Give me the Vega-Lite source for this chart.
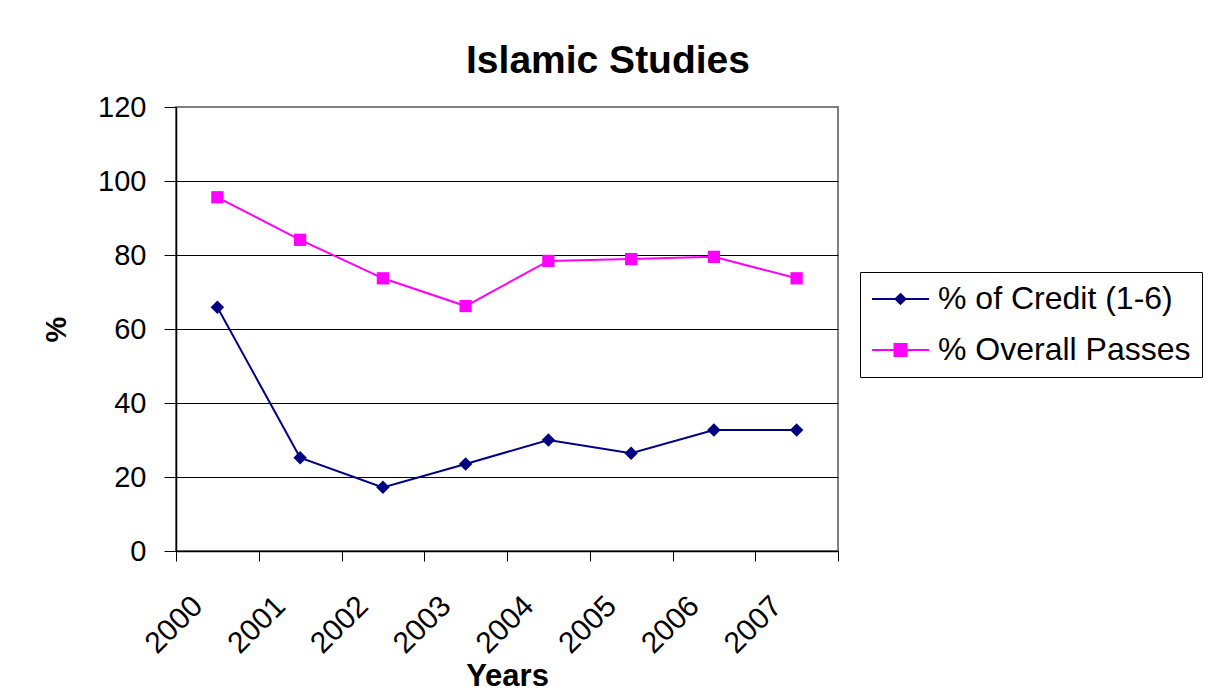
{
  "$schema": "https://vega.github.io/schema/vega-lite/v6.json",
  "width": 662,
  "height": 444,
  "autosize": {"type": "none"},
  "padding": {"left": 176, "top": 107, "right": 375, "bottom": 148},
  "background": "white",
  "config": {
    "font": "Liberation Sans",
    "view": {"stroke": "#808080", "strokeWidth": 2}
  },
  "title": {
    "text": "Islamic Studies",
    "font": "Liberation Sans",
    "fontSize": 39,
    "fontWeight": "bold",
    "color": "black",
    "anchor": "middle",
    "frame": "group",
    "dx": 101,
    "dy": 47,
    "offset": 28,
    "baseline": "alphabetic"
  },
  "data": {
    "values": [
      {"year": "2000", "series": "% of Credit (1-6)", "value": 65.9},
      {"year": "2001", "series": "% of Credit (1-6)", "value": 25.2},
      {"year": "2002", "series": "% of Credit (1-6)", "value": 17.2},
      {"year": "2003", "series": "% of Credit (1-6)", "value": 23.5},
      {"year": "2004", "series": "% of Credit (1-6)", "value": 30.0},
      {"year": "2005", "series": "% of Credit (1-6)", "value": 26.4},
      {"year": "2006", "series": "% of Credit (1-6)", "value": 32.7},
      {"year": "2007", "series": "% of Credit (1-6)", "value": 32.7},
      {"year": "2000", "series": "% Overall Passes", "value": 95.6},
      {"year": "2001", "series": "% Overall Passes", "value": 84.1},
      {"year": "2002", "series": "% Overall Passes", "value": 73.7},
      {"year": "2003", "series": "% Overall Passes", "value": 66.2},
      {"year": "2004", "series": "% Overall Passes", "value": 78.4},
      {"year": "2005", "series": "% Overall Passes", "value": 78.9},
      {"year": "2006", "series": "% Overall Passes", "value": 79.5},
      {"year": "2007", "series": "% Overall Passes", "value": 73.7}
    ]
  },
  "encoding": {
    "x": {
      "field": "year",
      "type": "ordinal",
      "scale": {"type": "band", "paddingInner": 0, "paddingOuter": 0},
      "axis": {
        "title": "Years",
        "titleFont": "Liberation Sans",
        "titleFontSize": 31,
        "titleFontWeight": "bold",
        "titleColor": "black",
        "titleBaseline": "alphabetic",
        "titleY": 134,
        "labelAngle": -45,
        "labelAlign": "right",
        "labelBaseline": "middle",
        "labelOffset": -20,
        "labelPadding": 40,
        "labelFontSize": 30,
        "labelColor": "black",
        "labelOverlap": false,
        "tickBand": "extent",
        "tickSize": 10,
        "tickColor": "black",
        "domainColor": "black",
        "domainWidth": 1.5,
        "grid": false
      }
    },
    "y": {
      "field": "value",
      "type": "quantitative",
      "scale": {"domain": [0, 120], "nice": false},
      "axis": {
        "values": [0, 20, 40, 60, 80, 100, 120],
        "title": "%",
        "titleFont": "Liberation Sans",
        "titleFontSize": 29,
        "titleFontWeight": "bold",
        "titleColor": "black",
        "titleX": -120,
        "titleY": 222,
        "titleAlign": "center",
        "titleBaseline": "middle",
        "labelFontSize": 29,
        "labelColor": "black",
        "labelPadding": 18,
        "tickSize": 12,
        "tickColor": "black",
        "domainColor": "black",
        "domainWidth": 1.5,
        "grid": true,
        "gridColor": {"condition": {"test": "datum.value === 120", "value": "#808080"}, "value": "black"},
        "gridWidth": 1,
        "gridOpacity": 1
      }
    }
  },
  "layer": [
    {
      "mark": {"type": "line", "strokeWidth": 2},
      "encoding": {
        "color": {
          "field": "series",
          "type": "nominal",
          "scale": {"domain": ["% of Credit (1-6)", "% Overall Passes"], "range": ["#000080", "#FF00FF"]},
          "legend": null
        }
      }
    },
    {
      "mark": {"type": "point", "filled": true, "opacity": 1, "size": 150},
      "encoding": {
        "color": {
          "field": "series",
          "type": "nominal",
          "scale": {"domain": ["% of Credit (1-6)", "% Overall Passes"], "range": ["#000080", "#FF00FF"]},
          "legend": null
        },
        "shape": {
          "field": "series",
          "type": "nominal",
          "scale": {"domain": ["% of Credit (1-6)", "% Overall Passes"], "range": ["M-1.1,0L0,-1.1L1.1,0L0,1.1Z", "square"]},
          "legend": null
        }
      }
    },
    {
      "mark": {"type": "point", "filled": true, "opacity": 0, "strokeWidth": 2},
      "encoding": {
        "color": {
          "field": "series",
          "type": "nominal",
          "scale": {"domain": ["% of Credit (1-6)", "% Overall Passes"], "range": ["#000080", "#FF00FF"]},
          "legend": {
            "orient": "none", "legendX": 684, "legendY": 165, "title": null,
            "labelFont": "Liberation Sans", "labelFontSize": 32, "labelColor": "black", "labelLimit": 500,
            "strokeColor": "black", "fillColor": "white", "padding": 11,
            "symbolSize": 900, "symbolStrokeWidth": 2, "symbolOpacity": 1,
            "labelOffset": 35, "rowPadding": 19
          }
        },
        "stroke": {
          "field": "series",
          "type": "nominal",
          "scale": {"domain": ["% of Credit (1-6)", "% Overall Passes"], "range": ["#000080", "#FF00FF"]},
          "legend": {
            "orient": "none", "legendX": 684, "legendY": 165, "title": null,
            "labelFont": "Liberation Sans", "labelFontSize": 32, "labelColor": "black", "labelLimit": 500,
            "strokeColor": "black", "fillColor": "white", "padding": 11,
            "symbolSize": 900, "symbolStrokeWidth": 2, "symbolOpacity": 1,
            "labelOffset": 35, "rowPadding": 19
          }
        },
        "shape": {
          "field": "series",
          "type": "nominal",
          "scale": {
            "domain": ["% of Credit (1-6)", "% Overall Passes"],
            "range": ["M-1,0L2.8,0M0.9,-0.33L1.23,0L0.9,0.33L0.57,0Z", "M-1,0L2.8,0M0.5,-0.4L1.3,-0.4L1.3,0.4L0.5,0.4Z"]
          },
          "legend": {
            "orient": "none", "legendX": 684, "legendY": 165, "title": null,
            "labelFont": "Liberation Sans", "labelFontSize": 32, "labelColor": "black", "labelLimit": 500,
            "strokeColor": "black", "fillColor": "white", "padding": 11,
            "symbolSize": 900, "symbolStrokeWidth": 2, "symbolOpacity": 1,
            "labelOffset": 35, "rowPadding": 19
          }
        }
      }
    }
  ],
  "resolve": {"scale": {"color": "independent", "shape": "independent", "stroke": "independent"}}
}
